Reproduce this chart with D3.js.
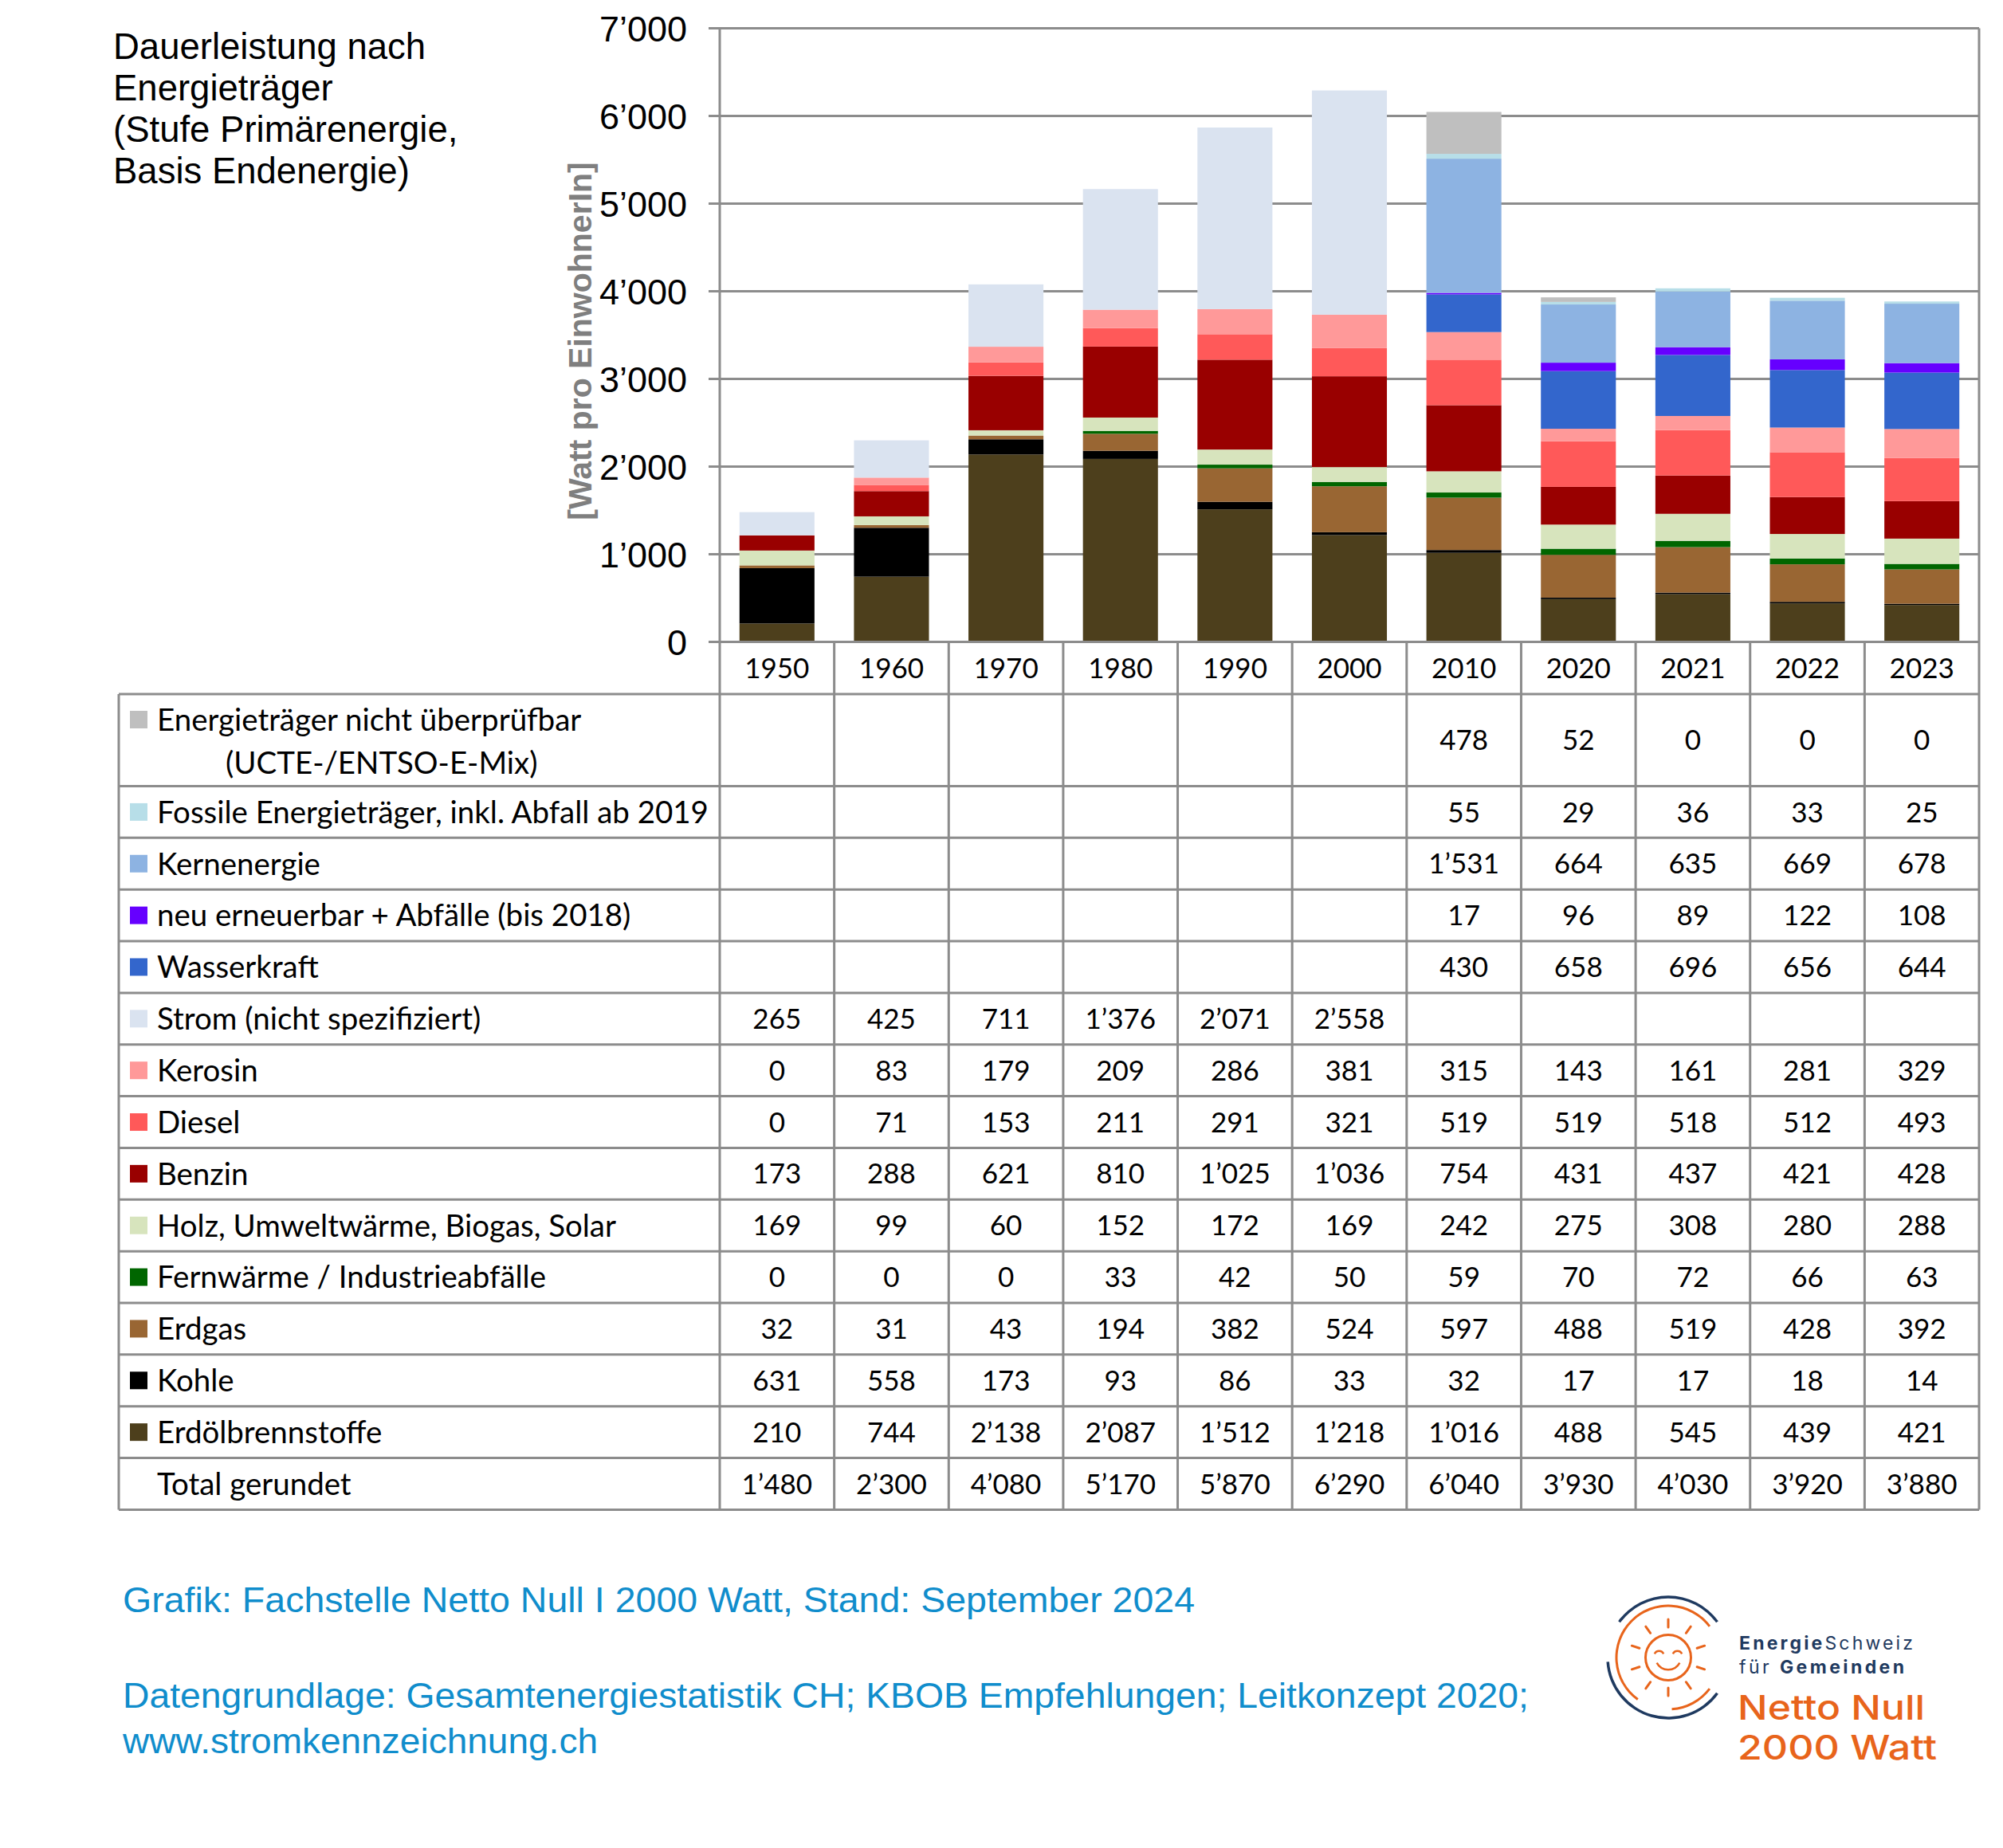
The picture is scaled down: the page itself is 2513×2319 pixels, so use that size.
<!DOCTYPE html>
<html><head><meta charset="utf-8">
<script src="https://cdn.jsdelivr.net/npm/d3@7"></script>
<style>html,body{margin:0;padding:0;background:#fff}svg{display:block}</style>
</head><body>
<svg id="chart" width="2513" height="2319"></svg>
<script>
// ---------- DATA ----------
const years = ["1950","1960","1970","1980","1990","2000","2010","2020","2021","2022","2023"];
const nichtUeberpruefbar = [null,null,null,null,null,null,478,52,0,0,0];
const fossile            = [null,null,null,null,null,null,55,29,36,33,25];
const kernenergie        = [null,null,null,null,null,null,1531,664,635,669,678];
const neuErneuerbar      = [null,null,null,null,null,null,17,96,89,122,108];
const wasserkraft        = [null,null,null,null,null,null,430,658,696,656,644];
const strom              = [265,425,711,1376,2071,2558,null,null,null,null,null];
const kerosin            = [0,83,179,209,286,381,315,143,161,281,329];
const diesel             = [0,71,153,211,291,321,519,519,518,512,493];
const benzin             = [173,288,621,810,1025,1036,754,431,437,421,428];
const holz               = [169,99,60,152,172,169,242,275,308,280,288];
const fernwaerme         = [0,0,0,33,42,50,59,70,72,66,63];
const erdgas             = [32,31,43,194,382,524,597,488,519,428,392];
const kohle              = [631,558,173,93,86,33,32,17,17,18,14];
const erdoel             = [210,744,2138,2087,1512,1218,1016,488,545,439,421];
const totals             = [1480,2300,4080,5170,5870,6290,6040,3930,4030,3920,3880];
const yTicks = [0,1000,2000,3000,4000,5000,6000,7000];

// legend/table order (top to bottom)
const series = [
  {key:"nicht", label:["Energieträger nicht überprüfbar","(UCTE-/ENTSO-E-Mix)"], color:"#bfbfbf", values:nichtUeberpruefbar},
  {key:"fossile", label:["Fossile Energieträger, inkl. Abfall ab 2019"], color:"#b7dee8", values:fossile},
  {key:"kern", label:["Kernenergie"], color:"#8db3e2", values:kernenergie},
  {key:"neu", label:["neu erneuerbar + Abfälle (bis 2018)"], color:"#6600ff", values:neuErneuerbar},
  {key:"wasser", label:["Wasserkraft"], color:"#3366cc", values:wasserkraft},
  {key:"strom", label:["Strom (nicht spezifiziert)"], color:"#dae3f0", values:strom},
  {key:"kerosin", label:["Kerosin"], color:"#ff9999", values:kerosin},
  {key:"diesel", label:["Diesel"], color:"#ff5959", values:diesel},
  {key:"benzin", label:["Benzin"], color:"#990000", values:benzin},
  {key:"holz", label:["Holz, Umweltwärme, Biogas, Solar"], color:"#d7e4bd", values:holz},
  {key:"fern", label:["Fernwärme / Industrieabfälle"], color:"#006600", values:fernwaerme},
  {key:"erdgas", label:["Erdgas"], color:"#996633", values:erdgas},
  {key:"kohle", label:["Kohle"], color:"#000000", values:kohle},
  {key:"erdoel", label:["Erdölbrennstoffe"], color:"#4d3f1c", values:erdoel}
];

// ---------- LAYOUT ----------
const svg = d3.select("#chart");
const GRID = "#8c8c8c";
const ARIAL = "'Liberation Sans', Arial, sans-serif";
const TF = "Lato, 'Open Sans', sans-serif";
const plotL = 903, plotR = 2483;
const tableL = 149;
const catBottom = 871, row1Bottom = 986.5, rowH = 64.85;
const tableBottom = row1Bottom + 14*rowH;
const fmt = v => d3.format(",")(v).replace(/,/g, "\u2019");

const x = d3.scaleBand().domain(years).range([plotL, plotR]).paddingInner(0.345).paddingOuter(0.1725);
const gap = (x.step()-x.bandwidth())/2;
const y = d3.scaleLinear().domain([0,7000]).range([805.5, 35.4]);

// gridlines
svg.append("g").selectAll("line").data(yTicks).join("line")
  .attr("x1", plotL-14).attr("x2", plotR).attr("y1", d=>y(d)).attr("y2", d=>y(d))
  .attr("stroke", GRID).attr("stroke-width", 3);

// stacked bars
const stackOrder = series.slice().reverse();
const tableData = years.map((yr,i) => {
  const o = {year: yr};
  series.forEach(s => o[s.key] = s.values[i] == null ? 0 : s.values[i]);
  return o;
});
const stacked = d3.stack().keys(stackOrder.map(s=>s.key))(tableData);
const colorOf = Object.fromEntries(series.map(s=>[s.key,s.color]));
svg.append("g").selectAll("g").data(stacked).join("g")
  .attr("fill", d => colorOf[d.key])
  .selectAll("rect").data(d=>d).join("rect")
  .attr("x", d => x(d.data.year))
  .attr("width", x.bandwidth())
  .attr("y", d => y(d[1]))
  .attr("height", d => Math.max(0, y(d[0]) - y(d[1])));

// x-axis line at 0 on top
svg.append("line").attr("x1", plotL-14).attr("x2", plotR).attr("y1", y(0)).attr("y2", y(0))
  .attr("stroke", GRID).attr("stroke-width", 3);

// y axis labels via d3 axis
const yAxis = d3.axisLeft(y).tickValues(yTicks).tickSize(0).tickPadding(41).tickFormat(fmt);
const ya = svg.append("g").attr("transform", `translate(${plotL},0)`).call(yAxis);
ya.select(".domain").remove();
ya.selectAll("text").attr("font-family", ARIAL).attr("font-size", 45).attr("fill", "#000").attr("dy","0.36em");

// y axis title
svg.append("text").attr("transform", "translate(742,428) rotate(-90)")
  .attr("text-anchor","middle").attr("font-family", ARIAL).attr("font-weight","bold")
  .attr("font-size", 41).attr("fill", "#7f7f7f").text("[Watt pro EinwohnerIn]");

// chart title
const titleLines = ["Dauerleistung nach","Energieträger","(Stufe Primärenergie,","Basis Endenergie)"];
svg.append("g").selectAll("text").data(titleLines).join("text")
  .attr("x",142).attr("y",(d,i)=>74+i*52).attr("font-family",ARIAL).attr("font-size",45.5).attr("fill","#000").text(d=>d);

// ---------- TABLE LINES ----------
const lines = svg.append("g").attr("stroke", GRID).attr("stroke-width", 3);
lines.append("line").attr("x1",plotL).attr("x2",plotL).attr("y1",y(7000)).attr("y2",tableBottom);
lines.append("line").attr("x1",plotR).attr("x2",plotR).attr("y1",y(7000)).attr("y2",tableBottom);
lines.append("line").attr("x1",tableL).attr("x2",tableL).attr("y1",catBottom).attr("y2",tableBottom);
lines.selectAll(".col").data(years.slice(1)).join("line").attr("class","col")
  .attr("x1", d=>x(d)-gap).attr("x2", d=>x(d)-gap)
  .attr("y1", y(0)).attr("y2", tableBottom);
const rowLines = [catBottom, row1Bottom];
for (let i=1;i<=14;i++) rowLines.push(row1Bottom + i*rowH);
lines.selectAll(".row").data(rowLines).join("line").attr("class","row")
  .attr("x1", tableL).attr("x2", plotR).attr("y1", d=>d).attr("y2", d=>d);

// category labels
svg.append("g").selectAll("text").data(years).join("text")
  .attr("x", d=>x(d)+x.bandwidth()/2).attr("y", (y(0)+catBottom)/2).attr("dy","0.36em")
  .attr("text-anchor","middle").attr("font-family",TF).attr("font-size",35).attr("fill","#000").text(d=>d);

// legend font fitting (Calibri substitute)
const probe = svg.append("text").attr("font-family",TF).attr("font-size",100).text("Fossile Energieträger, inkl. Abfall ab 2019");
const legendFS = 100*692/probe.node().getComputedTextLength();
probe.remove();

// row centers: 0 = double first row, 1..13 series, 14 = total
const rowCenter = i => i===0 ? (catBottom+row1Bottom)/2 : row1Bottom + (i-0.5)*rowH;
const TOTAL_ROW = series.length; // 14

// legend labels & markers
const lg = svg.append("g");
series.forEach((s,i) => {
  const cy = i===0 ? 903 : rowCenter(i);
  lg.append("rect").attr("x",163).attr("y",cy-11).attr("width",22).attr("height",22).attr("fill",s.color);
  lg.append("text").attr("x",197).attr("y",cy).attr("dy","0.36em").attr("font-family",TF).attr("font-size",legendFS).attr("fill","#000").text(s.label[0]);
  if (s.label[1]) lg.append("text").attr("x",283).attr("y",957).attr("dy","0.36em").attr("font-family",TF).attr("font-size",legendFS).attr("fill","#000").text(s.label[1]);
});
lg.append("text").attr("x",197).attr("y",rowCenter(TOTAL_ROW)).attr("dy","0.36em").attr("font-family",TF).attr("font-size",legendFS).attr("fill","#000").text("Total gerundet");

// values
const vg = svg.append("g").attr("font-family",TF).attr("font-size",35).attr("fill","#000").attr("text-anchor","middle");
series.forEach((s,i) => {
  years.forEach((yr,j) => {
    const v = s.values[j];
    if (v == null) return;
    vg.append("text").attr("x", x(yr)+x.bandwidth()/2).attr("y", rowCenter(i)).attr("dy","0.36em").text(fmt(v));
  });
});
years.forEach((yr,j) => {
  vg.append("text").attr("x", x(yr)+x.bandwidth()/2).attr("y", rowCenter(TOTAL_ROW)).attr("dy","0.36em").text(fmt(totals[j]));
});

// ---------- FOOTER ----------
const BLUE = "#108dcc";
const foot = svg.append("g").attr("font-family",ARIAL).attr("font-size",45).attr("fill",BLUE);
foot.append("text").attr("x",154).attr("y",2023).attr("textLength",1345).attr("lengthAdjust","spacingAndGlyphs").text("Grafik: Fachstelle Netto Null I 2000 Watt, Stand: September 2024");
foot.append("text").attr("x",154).attr("y",2143).attr("textLength",1764).attr("lengthAdjust","spacingAndGlyphs").text("Datengrundlage: Gesamtenergiestatistik CH; KBOB Empfehlungen; Leitkonzept 2020;");
foot.append("text").attr("x",154).attr("y",2200).attr("textLength",596).attr("lengthAdjust","spacingAndGlyphs").text("www.stromkennzeichnung.ch");

// ---------- LOGO ----------
const NAVY = "#1f3a60", ORANGE = "#e8641b";
const lc = {x:2093, y:2080};
const logo = svg.append("g").attr("transform",`translate(${lc.x},${lc.y})`);
const deg = d => d*Math.PI/180;
const ring = (r,a0,a1,w,c) => logo.append("path")
  .attr("d", d3.arc().innerRadius(r-w/2).outerRadius(r+w/2).startAngle(deg(a0)).endAngle(deg(a1))())
  .attr("fill", c);
ring(76,-54,54,3.5,NAVY);
ring(76,126,266,3.5,NAVY);
ring(65,-144,53,3,ORANGE);
ring(65,127,176,3,ORANGE);
logo.append("circle").attr("r",28.5).attr("fill","none").attr("stroke",ORANGE).attr("stroke-width",3);
d3.range(10).forEach(k => {
  const a = deg(90 - k*36);
  logo.append("line").attr("x1",38*Math.cos(a)).attr("y1",-38*Math.sin(a))
    .attr("x2",48*Math.cos(a)).attr("y2",-48*Math.sin(a)).attr("stroke",ORANGE).attr("stroke-width",3).attr("stroke-linecap","round");
});
[-11.5, 11.5].forEach(ex => {
  logo.append("path").attr("d", d3.arc().innerRadius(5).outerRadius(7.5).startAngle(deg(-65)).endAngle(deg(65))())
    .attr("transform",`translate(${ex},-2)`).attr("fill",ORANGE);
});
logo.append("path").attr("d", d3.arc().innerRadius(15).outerRadius(17.5).startAngle(deg(118)).endAngle(deg(242))())
  .attr("transform","translate(0,-1)").attr("fill",ORANGE);

const LOGOF = "Inter, 'Liberation Sans', sans-serif";
const lt = svg.append("g").attr("font-family",LOGOF).attr("fill",NAVY);
const t1 = lt.append("text").attr("x",2182).attr("y",2070).attr("font-size",23).attr("textLength",219).attr("lengthAdjust","spacing").attr("letter-spacing",1);
t1.append("tspan").attr("font-weight","700").text("Energie");
t1.append("tspan").attr("font-weight","400").text("Schweiz");
const t2 = lt.append("text").attr("x",2182).attr("y",2100).attr("font-size",23).attr("textLength",208).attr("lengthAdjust","spacing").attr("letter-spacing",1);
t2.append("tspan").attr("font-weight","400").text("für ");
t2.append("tspan").attr("font-weight","700").text("Gemeinden");
svg.append("text").attr("x",2180).attr("y",2158).attr("font-family",LOGOF).attr("font-weight","500").attr("font-size",43).attr("fill",ORANGE)
  .attr("textLength",235).attr("lengthAdjust","spacingAndGlyphs").text("Netto Null");
svg.append("text").attr("x",2180).attr("y",2208).attr("font-family",LOGOF).attr("font-weight","500").attr("font-size",43).attr("fill",ORANGE)
  .attr("textLength",250).attr("lengthAdjust","spacingAndGlyphs").text("2000 Watt");
</script>
</body></html>
